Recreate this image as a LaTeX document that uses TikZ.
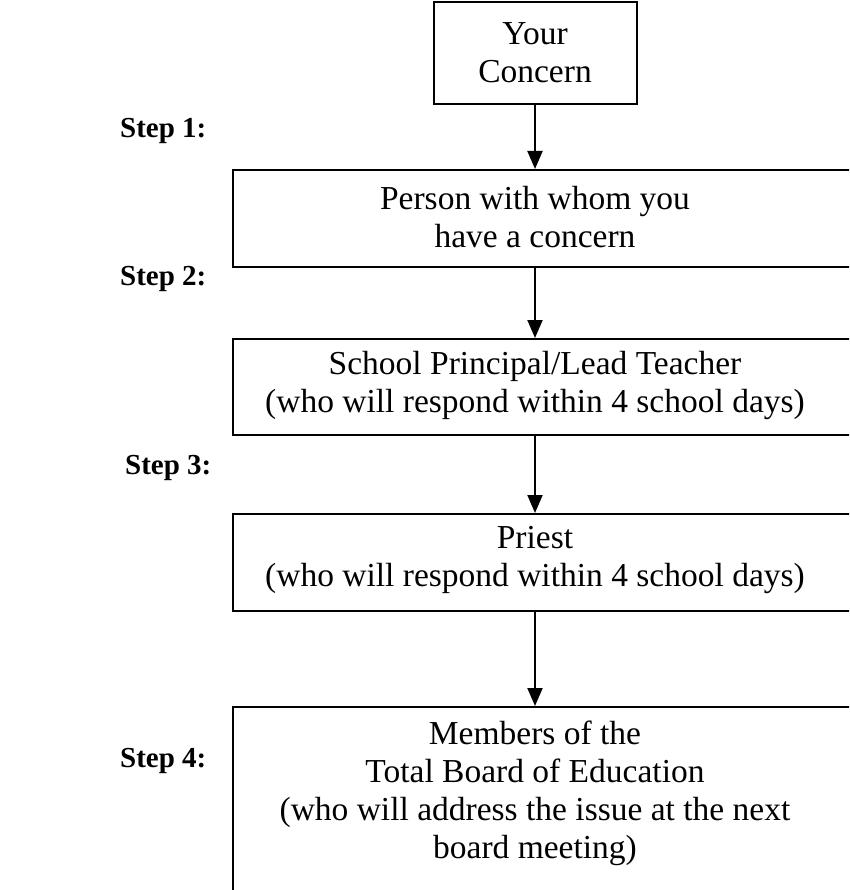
\documentclass[tikz,border=0pt]{standalone}
\usepackage{fontspec}
\setmainfont{Liberation Serif}
\usetikzlibrary{arrows.meta}
\tikzset{
  boxshape/.style={draw=black, line width=2pt, rectangle, inner sep=0pt},
  boxtext/.style={align=center, inner sep=0pt, font=\fontsize{33.5}{38}\selectfont},
  steplabel/.style={anchor=west, inner sep=0pt, font=\fontsize{29}{34}\selectfont\bfseries},
  arr/.style={line width=2pt, -{Triangle[length=18pt,width=15pt]}}
}
\begin{document}
\begin{tikzpicture}[x=1pt,y=-1pt]
\useasboundingbox (0,0) rectangle (849,890);
\clip (0,0) rectangle (849,890);
% boxes
\node[boxshape, minimum width=203pt, minimum height=102pt] (b1) at (535,53) {};
\node[boxtext] (t1) at (535,53) {Your\\Concern};
\node[boxshape, anchor=north west, minimum width=660pt, minimum height=97pt] (b2) at (232,169) {};
\node[boxtext] (t2) at (535,217) {Person with whom you\\have a concern};
\node[boxshape, anchor=north west, minimum width=660pt, minimum height=96pt] (b3) at (232,338) {};
\node[boxtext] (t3) at (535,385) {School Principal/Lead Teacher\\(who will respond within 4 school days)};
\node[boxshape, anchor=north west, minimum width=660pt, minimum height=97pt] (b4) at (232,513) {};
\node[boxtext] (t4) at (535,560) {Priest\\(who will respond within 4 school days)};
\node[boxshape, anchor=north west, minimum width=660pt, minimum height=230pt] (b5) at (232,706) {};
\node[boxtext] (t5) at (535,793) {Members of the\\Total Board of Education\\(who will address the issue at the next\\board meeting)};
% connectors
\draw[arr] (b1.south) -- (b1.south |- b2.north);
\draw[arr] (b1.south |- b2.south) -- (b1.south |- b3.north);
\draw[arr] (b1.south |- b3.south) -- (b1.south |- b4.north);
\draw[arr] (b1.south |- b4.south) -- (b1.south |- b5.north);
% step labels
\node[steplabel] (s1) at (120,131) {Step 1:};
\node[steplabel] (s2) at (120,279) {Step 2:};
\node[steplabel] (s3) at (125,468) {Step 3:};
\node[steplabel] (s4) at (120,761) {Step 4:};
\end{tikzpicture}
\end{document}
